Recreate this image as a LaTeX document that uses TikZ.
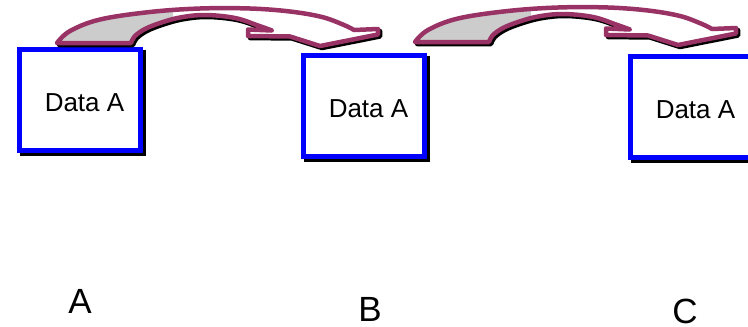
\documentclass[tikz,border=0pt]{standalone}
\usepackage{fontspec}
\setmainfont{Liberation Sans}
\usetikzlibrary{shadows}
\definecolor{arrowline}{HTML}{993366}
\definecolor{arrowback}{HTML}{CCCCCC}
\newcommand\curvedarrowpath{plot[smooth, tension=0.6] coordinates {(57,43) (70,31) (100,19.5) (150,12) (200,8.5) (250,8.5) (290,11.5) (322,17) (344,25) (354,30)} -- (378,29) -- (378,34.5) -- (320,46) -- (290,36.5) -- (248,36) -- (248,29.5) -- (272,30.5) -- plot[smooth, tension=0.6] coordinates {(272,30.5) (258,25.5) (235,18) (205,15) (180,17.5) (160,23) (145,29) (135,36) (131,43)} -- cycle}
\begin{document}
\begin{tikzpicture}[x=1pt,y=-1pt,
  databox/.style={draw=blue, line width=5pt, fill=white, minimum width=121pt, minimum height=101pt,
    inner sep=0pt, outer sep=0pt, text height=23.6pt, font=\fontsize{26}{26}\selectfont,
    general shadow={shadow xshift=3pt, shadow yshift=-3pt, draw=black, fill=black, line width=5pt}},
  caplabel/.style={anchor=base, inner sep=0pt, font=\fontsize{35}{35}\selectfont},
  arrowshadow/.style={fill=black, draw=black, line width=4.5pt, line join=round},
  arrowoutline/.style={draw=arrowline, line width=4.5pt, line join=round}]
\useasboundingbox (0,0) rectangle (748,327);
\clip (0,0) rectangle (748,327);

% boxes
\node[databox] (b1) at (80,100) {\hspace*{9pt}Data A};
\node[databox] (b2) at (364,105.5) {\hspace*{9pt}Data A};
\node[databox] (b3) at (691,106.5) {\hspace*{9pt}Data A};

% curved block arrows
\foreach \dx/\dy in {0/0, 358/-1} {
  \begin{scope}[shift={(\dx,\dy)}]
    \path[arrowshadow, shift={(2,2)}] \curvedarrowpath;
    \path[fill=white] \curvedarrowpath;
    \begin{scope}
      \clip (0,0) rectangle (173,50);
      \path[fill=arrowback] \curvedarrowpath;
    \end{scope}
    \path[arrowoutline] \curvedarrowpath;
  \end{scope}
}

% labels
\node[caplabel] (la) at (80,313) {A};
\node[caplabel] (lb) at (370,321.5) {B};
\node[caplabel] (lc) at (685,323.5) {C};
\end{tikzpicture}
\end{document}
